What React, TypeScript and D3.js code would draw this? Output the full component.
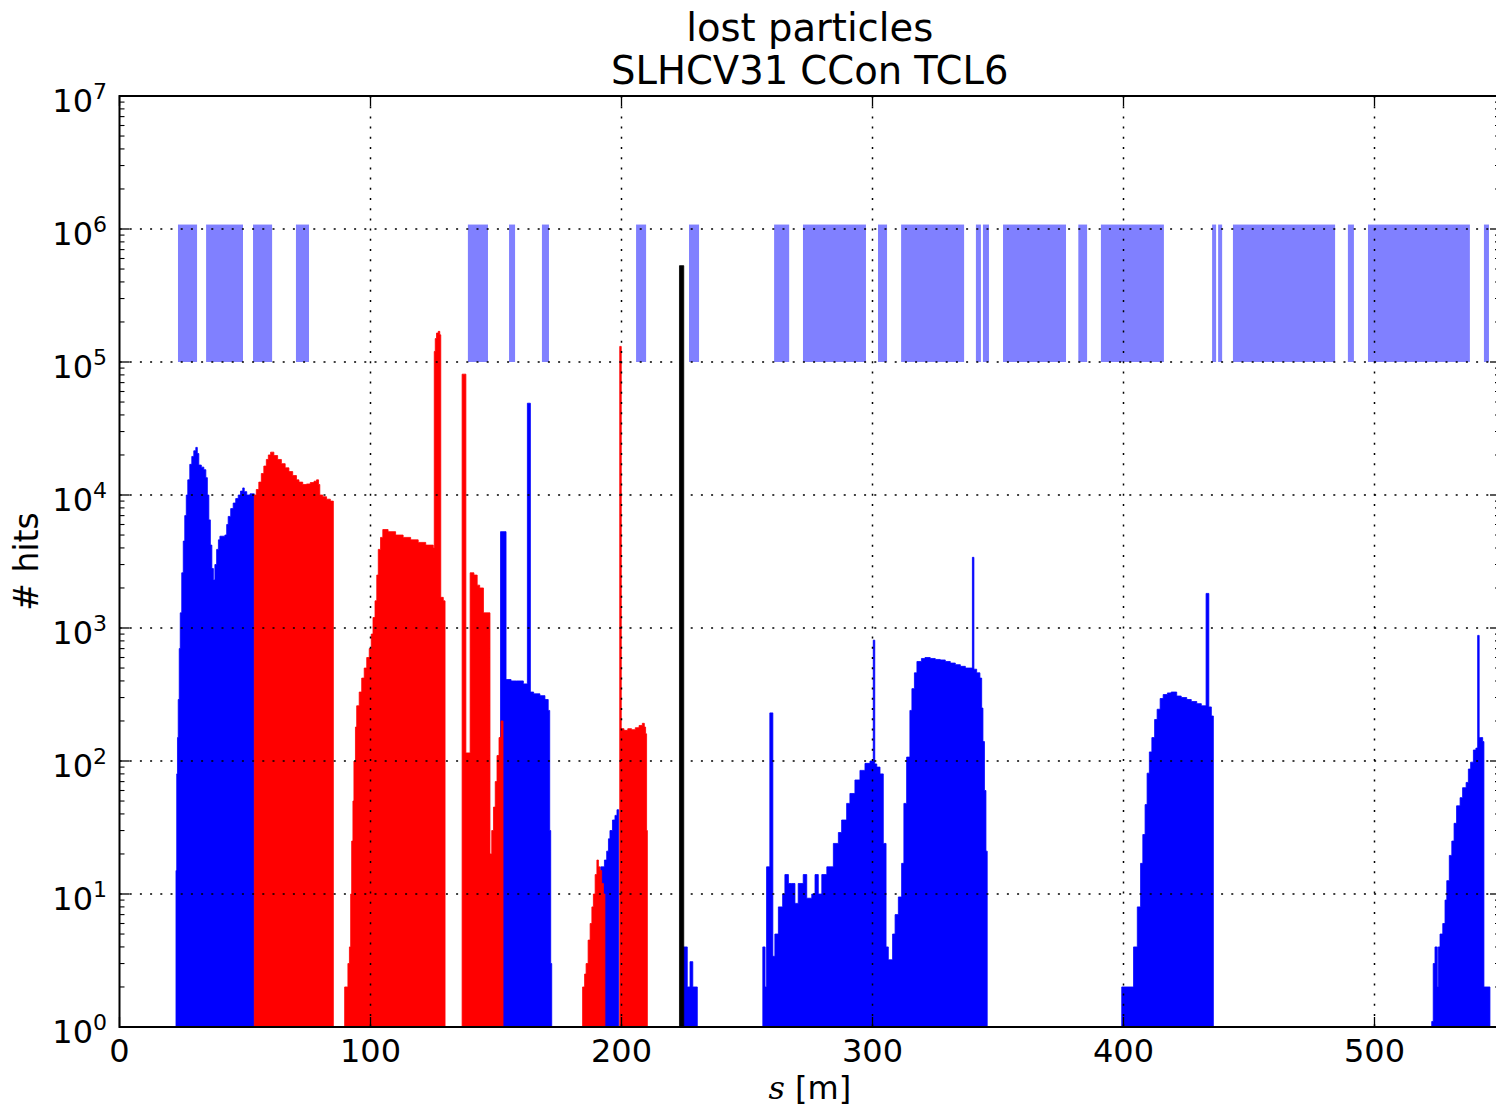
import React from "react";
import * as d3 from "d3";

// ---- data (s [m], hits) step-after histogram points; 0 closes a segment ----
const blueLoss: [number, number][] = [
  [22.5, 15], [22.8, 80], [23.1, 150], [23.4, 290], [23.8, 700], [24.2, 1300], [24.8, 2600], [25.4, 4500],
  [26.0, 7000], [26.6, 10000], [27.2, 13000], [28.0, 17000], [28.8, 19500], [29.6, 21500], [30.4, 22800],
  [31.0, 20500], [31.6, 16800], [32.6, 16200], [33.6, 15500], [34.4, 13500], [35.0, 10000], [35.6, 6500],
  [36.2, 4200], [36.8, 2800], [37.4, 2300], [38.0, 3000], [38.7, 3900], [39.4, 4600], [40.0, 4900],
  [42.0, 5000], [42.7, 6000], [43.3, 6900], [44.3, 7900], [45.3, 8700], [46.3, 9400], [47.3, 10000],
  [48.2, 10700], [49.1, 11300], [49.7, 10600], [50.7, 10000], [52.0, 10200], [53.7, 0],
  [151.8, 5300], [154.0, 410], [156.0, 400], [158.2, 400], [160.9, 380], [162.5, 49000], [163.7, 330],
  [165.0, 320], [167.5, 310], [169.5, 290], [170.8, 240], [171.4, 30], [171.8, 3], [172.2, 0],
  [191.7, 16], [193.2, 18], [194.1, 21], [194.8, 26], [195.4, 30], [196.4, 36], [197.4, 39], [198.2, 43], [198.9, 0],
  [224.6, 4], [226.2, 2], [227.3, 3.1], [228.4, 2], [230.2, 0],
  [256.3, 4], [257.2, 2], [257.8, 16], [259.1, 230], [260.3, 3.4], [261.1, 5], [262.5, 8], [264.2, 10],
  [265.1, 14], [266.5, 12], [267.8, 12], [269.1, 8.5], [270.4, 12], [272.4, 14], [273.8, 9.3], [275.8, 10],
  [277.1, 14], [278.4, 10], [279.8, 14], [281.8, 16], [284.4, 24], [286.4, 29], [287.7, 36], [289.7, 48],
  [291.0, 57], [293.0, 72], [295.0, 85], [297.0, 96], [299.0, 100], [300.3, 810], [300.9, 95], [301.7, 90],
  [303.0, 80], [304.3, 24], [305.4, 4], [306.3, 3.2], [308.0, 5], [309.0, 7], [310.3, 9.5], [311.6, 17],
  [312.5, 48], [313.6, 107], [314.9, 240], [315.7, 350], [316.7, 460], [317.7, 560], [319.5, 590],
  [320.9, 600], [323.0, 590], [325.0, 580], [327.0, 575], [329.0, 560], [331.0, 545], [333.0, 530],
  [335.0, 515], [337.0, 500], [339.8, 3400], [340.4, 490], [341.5, 460], [342.8, 420], [343.5, 250],
  [344.0, 140], [344.6, 60], [345.2, 21], [345.7, 0],
  [399.3, 2], [404.0, 4], [405.5, 8], [406.8, 17], [407.7, 28], [408.6, 47], [409.4, 81], [410.3, 117],
  [411.3, 150], [412.4, 205], [413.4, 245], [414.6, 295], [415.8, 316], [417.5, 325], [419.0, 330],
  [421.2, 308], [423.0, 300], [425.2, 290], [427.0, 280], [429.2, 270], [431.0, 260], [432.9, 1820],
  [434.0, 255], [435.0, 218], [435.8, 0],
  [522.8, 1.1], [523.4, 3], [524.1, 4], [525.0, 2], [525.4, 4], [526.1, 5], [527.2, 6], [528.1, 9],
  [528.8, 12.6], [529.8, 19.5], [530.8, 25], [531.7, 34], [532.7, 46], [534.1, 53], [535.1, 63],
  [536.5, 69], [537.4, 87], [538.3, 98], [539.4, 121], [540.4, 125], [541.1, 880], [541.7, 150],
  [542.3, 150], [543.1, 140], [543.6, 2], [546.0, 0],
];

const redLoss: [number, number][] = [
  [53.7, 10000], [54.5, 11000], [55.5, 12500], [56.5, 14500], [57.5, 16500], [58.5, 18500], [59.3, 20000],
  [60.2, 21000], [61.5, 19800], [63.0, 18500], [64.5, 17200], [66.0, 16000], [67.5, 15000], [69.0, 14000],
  [70.5, 13000], [71.5, 12500], [73.0, 12000], [74.5, 12100], [76.0, 12400], [77.5, 12700], [78.5, 13000],
  [79.3, 12000], [79.8, 10000], [81.0, 9700], [82.5, 9300], [84.0, 9000], [85.2, 0],
  [89.7, 2], [91.0, 3], [91.6, 4], [92.1, 10], [92.5, 25], [93.0, 50], [93.4, 100], [94.0, 180], [94.5, 260],
  [95.5, 330], [96.5, 420], [97.5, 500], [98.5, 600], [99.5, 700], [100.3, 900], [101.0, 1200],
  [101.8, 1600], [102.5, 2500], [103.1, 3900], [104.0, 4800], [104.9, 5500], [107.0, 5300], [110.0, 5000],
  [113.0, 4800], [116.0, 4600], [119.0, 4400], [122.0, 4200], [125.0, 4000], [125.4, 120000],
  [125.8, 150000], [126.3, 165000], [127.0, 170000], [127.6, 160000], [128.0, 1700], [129.0, 1600], [129.7, 0],
  [136.5, 81000], [138.0, 115], [139.7, 2600], [141.2, 2500], [142.5, 2100], [143.5, 2000], [145.0, 1300],
  [147.6, 20], [148.3, 30], [149.0, 45], [149.7, 70], [150.4, 110], [151.2, 150], [152.0, 200], [152.8, 0],
  [184.5, 2], [185.3, 2.5], [185.9, 3], [186.7, 4.5], [187.5, 6], [188.2, 8], [188.8, 10], [189.5, 14],
  [190.2, 18], [190.8, 16], [191.4, 15], [192.1, 12], [192.8, 10], [193.4, 0],
  [199.3, 131000], [199.9, 175], [201.0, 170], [202.5, 175], [204.0, 172], [205.5, 178], [207.0, 185],
  [208.3, 192], [209.1, 180], [209.6, 160], [210.0, 30], [210.3, 0],
];

const blackLoss: [number, number][] = [
  [223.1, 530000], [224.8, 0],
];

// aperture (element) bands: start, end in s [m]
const apertureStart = [23.3, 34.5, 53.2, 70.3, 138.8, 155.2, 168.3, 205.8, 226.9, 260.8, 272.3, 302.2,
  311.4, 341.2, 344.0, 352.0, 382.0, 391.0, 435.3, 437.7, 443.6, 489.4, 497.4, 543.6];
const apertureEnd = [30.9, 49.2, 60.8, 75.5, 146.8, 157.6, 171.1, 209.8, 230.9, 266.8, 297.4, 305.8,
  336.5, 343.2, 346.4, 377.1, 385.5, 416.1, 436.9, 439.3, 484.3, 491.8, 538.0, 545.6];
const apertureLow = 1e5;
const apertureHigh = 1.08e6;

const xTicks = [0, 100, 200, 300, 400, 500];
const yExponents = [0, 1, 2, 3, 4, 5, 6, 7];

const titleLines = ["lost particles", "SLHCV31 CCon TCL6"];

export default function App() {
  const W = 1496, H = 1111;
  const L = 119.5, R = 1500, T = 96, B = 1027;
  const x = d3.scaleLinear().domain([0, 550]).range([L, R]);
  const y = d3.scaleLog().domain([1, 1e7]).range([B, T]);
  const area = d3.area<[number, number]>()
    .x(d => x(d[0]))
    .y0(y(1))
    .y1(d => y(Math.max(1, d[1])))
    .curve(d3.curveStepAfter);

  const minorY: number[] = [];
  for (let e = 0; e < 7; e++) for (let m = 2; m <= 9; m++) minorY.push(m * Math.pow(10, e));

  const font = "'DejaVu Sans', sans-serif";
  const fs = 32;
  const grid = { stroke: "#000", strokeWidth: 1.5, strokeDasharray: "2,8.2" };

  return (
    <svg width={W} height={H} style={{ position: "absolute", left: 0, top: 0, background: "#fff" }}>
      <rect x={0} y={0} width={W} height={H} fill="#fff" />
      <defs>
        <clipPath id="plot">
          <rect x={L} y={T} width={R - L} height={B - T} />
        </clipPath>
      </defs>
      <g clipPath="url(#plot)">
        {apertureStart.map((s, i) => (
          <rect key={i} x={x(s)} width={x(apertureEnd[i]) - x(s)} y={y(apertureHigh)}
            height={y(apertureLow) - y(apertureHigh)} fill="#8080ff" />
        ))}
        <path d={area(blueLoss) || ""} fill="#0000ff" stroke="#0000ff" strokeWidth={0.8} />
        <path d={area(redLoss) || ""} fill="#ff0000" stroke="#ff0000" strokeWidth={0.8} />
        <path d={area(blackLoss) || ""} fill="#000" stroke="#000" strokeWidth={0.8} />
        {xTicks.filter(t => t > 0).map(t => (
          <line key={"gx" + t} x1={x(t)} x2={x(t)} y1={T} y2={B} {...grid} />
        ))}
        {yExponents.filter(e => e > 0 && e < 7).map(e => (
          <line key={"gy" + e} x1={L} x2={R} y1={y(Math.pow(10, e))} y2={y(Math.pow(10, e))} {...grid} />
        ))}
      </g>
      {/* ticks */}
      {xTicks.map(t => (
        <g key={"tx" + t} stroke="#000" strokeWidth={1.3}>
          <line x1={x(t)} x2={x(t)} y1={B} y2={B - 10} />
          <line x1={x(t)} x2={x(t)} y1={T} y2={T + 10} />
        </g>
      ))}
      {yExponents.map(e => (
        <g key={"ty" + e} stroke="#000" strokeWidth={1.3}>
          <line x1={L} x2={L + 10} y1={y(Math.pow(10, e))} y2={y(Math.pow(10, e))} />
          <line x1={R} x2={R - 10} y1={y(Math.pow(10, e))} y2={y(Math.pow(10, e))} />
        </g>
      ))}
      {minorY.map((v, i) => (
        <g key={"my" + i} stroke="#000" strokeWidth={1.1}>
          <line x1={L} x2={L + 5} y1={y(v)} y2={y(v)} />
          <line x1={R} x2={R - 5} y1={y(v)} y2={y(v)} />
        </g>
      ))}
      {/* spines */}
      <rect x={L} y={T} width={R - L} height={B - T} fill="none" stroke="#000" strokeWidth={2} />
      {/* tick labels */}
      {xTicks.map(t => (
        <text key={"lx" + t} x={x(t)} y={1062} textAnchor="middle" fontFamily={font} fontSize={fs} fill="#000">
          {t}
        </text>
      ))}
      {yExponents.map(e => (
        <text key={"ly" + e} x={107} y={y(Math.pow(10, e)) + 16} textAnchor="end" fontFamily={font} fontSize={fs} fill="#000">
          10<tspan fontSize={22} dy={-13}>{e}</tspan>
        </text>
      ))}
      {/* title */}
      <text x={(L + R) / 2} y={41} textAnchor="middle" fontFamily={font} fontSize={38.5} fill="#000">{titleLines[0]}</text>
      <text x={(L + R) / 2} y={84} textAnchor="middle" fontFamily={font} fontSize={38.5} fill="#000">{titleLines[1]}</text>
      {/* axis labels */}
      <text x={(L + R) / 2} y={1099} textAnchor="middle" fontFamily={font} fontSize={fs} fill="#000">
        <tspan fontFamily="'DejaVu Serif', serif" fontStyle="italic">s</tspan> [m]
      </text>
      <text transform={`translate(38,${(T + B) / 2}) rotate(-90)`} textAnchor="middle" fontFamily={font} fontSize={33} fill="#000">
        # hits
      </text>
    </svg>
  );
}
